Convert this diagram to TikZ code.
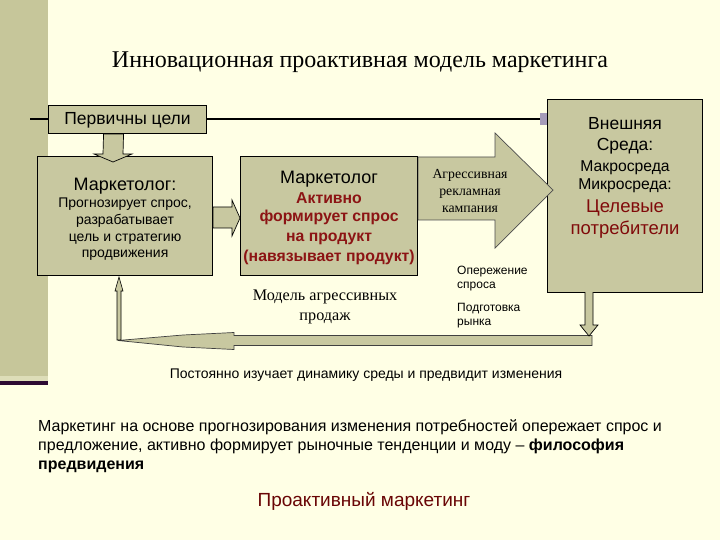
\documentclass[tikz,border=0pt]{standalone}
\usepackage{fontspec}
\setmainfont{Liberation Sans}
\newfontfamily\serifru{Liberation Serif}
\usetikzlibrary{calc}
\definecolor{bg}{RGB}{255,255,229}
\definecolor{olive}{RGB}{200,200,160}
\definecolor{strip}{RGB}{198,198,154}
\definecolor{darkred}{RGB}{140,20,20}
\definecolor{envred}{RGB}{128,10,10}
\definecolor{proact}{RGB}{105,5,5}
\definecolor{purpleline}{RGB}{45,10,50}
\definecolor{marker}{RGB}{165,155,185}
\newcommand{\fs}[2]{\fontsize{#1}{#2}\selectfont}
\begin{document}
\begin{tikzpicture}[x=1pt,y=-1pt,
  box/.style={draw=black,line width=1.1pt,fill=olive,inner sep=0pt,anchor=north west},
  blockarrow/.style={draw=black,line width=0.7pt,fill=olive,line join=miter},
  txt/.style={inner sep=0pt,anchor=base},
  txtw/.style={inner sep=0pt,anchor=base west}]
% background and left strip
\fill[bg] (0,0) rectangle (720,540);
\fill[strip] (0,0) rectangle (48,376);
\fill[strip!60!bg] (0,376) rectangle (48,381);
\fill[purpleline] (0,381) rectangle (48,385);
\useasboundingbox (0,0) rectangle (720,540);
% title
\node[txt,font=\serifru\fs{24}{28}] (title) at (360,68) {Инновационная проактивная модель маркетинга};
% boxes
\coordinate (lineL) at (30,119);
\node[box,minimum width=155pt,minimum height=193pt] (env) at (547,99) {};
\draw[line width=1.8pt] (lineL) -- (env.west |- lineL);
\fill[marker] ($(env.west |- lineL)+(-7,-6)$) rectangle ($(env.west |- lineL)+(0,6)$);
\node[box,minimum width=158pt,minimum height=28pt] (prim) at (48,105) {};
\node[box,minimum width=175pt,minimum height=119pt] (m1) at (37,156) {};
\node[box,minimum width=177pt,minimum height=119pt] (m2) at (240,156) {};
% block arrows
\draw[blockarrow] ($(prim.south)+(-24,0)$) -- (103,154) -- (94,154) -- (113,162) -- (132,154) -- (123,154) -- ($(prim.south)+(-4,0)$) -- cycle;
\draw[blockarrow] (m1.east |- 0,207) -- (232,207) -- (232,200) -- (m2.west |- 0,218) -- (232,236) -- (232,228) -- (m1.east |- 0,228) -- cycle;
\draw[blockarrow,draw=black!70] (m2.east |- 0,157) -- (495,157) -- (495,133) -- (553,190) -- (495,248) -- (495,220) -- (m2.east |- 0,220) -- cycle;
\draw[blockarrow,draw=black!75] (592,335.5) -- (592,345.5) -- (234,345.5) -- (234,349.5) -- (183,347) -- (118,340.5) -- (183,335) -- (234,332.5) -- (234,335.5) -- cycle;
\draw[blockarrow] (585,292) -- (585,325) -- (580,325) -- (589,336) -- (598,325) -- (593,325) -- (593,292);
\draw[blockarrow,line width=0.6pt] (117,340) -- (117,291) -- (115,291) -- (119,277) -- (123,291) -- (121,291) -- (121,340) -- cycle;
% box texts
\node[txt,font=\fs{17.5}{20}] (primt) at (prim.center |- 0,125) {Первичны цели};
\node[txt,font=\fs{18}{21}] (m1a) at (m1.center |- 0,191) {Маркетолог:};
\node[txt,font=\fs{14}{17}] (m1b) at (m1.center |- 0,207.5) {Прогнозирует спрос,};
\node[txt,font=\fs{14}{17}] (m1c) at (m1.center |- 0,224.5) {разрабатывает};
\node[txt,font=\fs{14}{17}] (m1d) at (m1.center |- 0,241.5) {цель и стратегию};
\node[txt,font=\fs{14}{17}] (m1e) at (m1.center |- 0,257.5) {продвижения};
\node[txt,font=\fs{18}{21}] (m2a) at (m2.center |- 0,184) {Маркетолог};
\node[txt,font=\bfseries\fs{15.8}{19},text=darkred] (m2b) at (m2.center |- 0,204) {Активно};
\node[txt,font=\bfseries\fs{15.8}{19},text=darkred] (m2c) at (m2.center |- 0,222) {формирует спрос};
\node[txt,font=\bfseries\fs{15.8}{19},text=darkred] (m2d) at (m2.center |- 0,241) {на продукт};
\node[txt,font=\bfseries\fs{15.8}{19},text=darkred] (m2e) at (m2.center |- 0,261) {(навязывает продукт)};
\node[txt,font=\fs{17.5}{20}] (enva) at (env.center |- 0,130) {Внешняя};
\node[txt,font=\fs{17.5}{20}] (envb) at (env.center |- 0,151) {Среда:};
\node[txt,font=\fs{15.7}{19}] (envc) at (env.center |- 0,172) {Макросреда};
\node[txt,font=\fs{15.7}{19}] (envd) at (env.center |- 0,190) {Микросреда:};
\node[txt,font=\fs{18.5}{21},text=envred] (enve) at (env.center |- 0,212) {Целевые};
\node[txt,font=\fs{18.5}{21},text=envred] (envf) at (env.center |- 0,234) {потребители};
% other texts
\node[txt,font=\serifru\fs{13.8}{16}] (agr1) at (470,179) {Агрессивная};
\node[txt,font=\serifru\fs{13.8}{16}] (agr2) at (470,196) {рекламная};
\node[txt,font=\serifru\fs{13.8}{16}] (agr3) at (470,213) {кампания};
\node[txt,font=\serifru\fs{16.2}{19}] (mod1) at (325,300) {Модель агрессивных};
\node[txt,font=\serifru\fs{16.2}{19}] (mod2) at (325,320) {продаж};
\node[txtw,font=\fs{12}{14}] (op1) at (457,274) {Опережение};
\node[txtw,font=\fs{12}{14}] (op2) at (457,288) {спроса};
\node[txtw,font=\fs{12}{14}] (pd1) at (457,311) {Подготовка};
\node[txtw,font=\fs{12}{14}] (pd2) at (457,325) {рынка};
\node[txt,font=\fs{14}{17}] (post) at (366,378.5) {Постоянно изучает динамику среды и предвидит изменения};
\node[txtw,font=\fs{16}{19}] (p1) at (38,431.5) {Маркетинг на основе прогнозирования изменения потребностей опережает спрос и};
\node[txtw,font=\fs{16}{19}] (p2) at (38,450.5) {предложение, активно формирует рыночные тенденции и моду – \textbf{философия}};
\node[txtw,font=\fs{16}{19}] (p3) at (38,469.5) {\textbf{предвидения}};
\node[txt,font=\fs{19}{22},text=proact] (pro) at (364,506) {Проактивный маркетинг};
\end{tikzpicture}
\end{document}
